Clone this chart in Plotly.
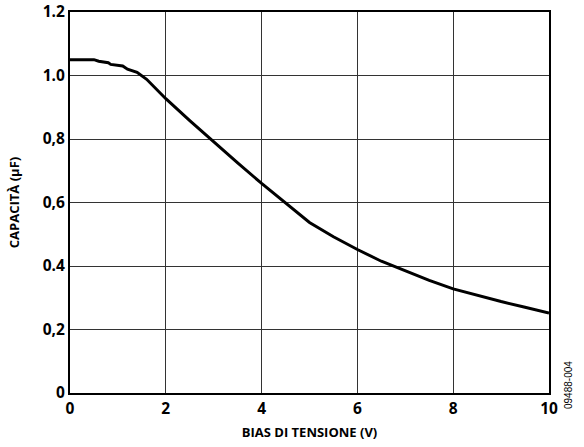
import plotly.graph_objects as go

bias_v = [0, 0.5, 0.6, 0.8, 0.85, 1.1, 1.2, 1.4, 1.6, 1.8, 2.0, 2.5, 3.0, 3.5, 4.0,
          4.5, 5.0, 5.5, 6.0, 6.5, 7.0, 7.5, 8.0, 8.5, 9.0, 9.5, 10.0]
capacitance_uf = [1.05, 1.05, 1.045, 1.04, 1.035, 1.03, 1.02, 1.01, 0.988, 0.957, 0.927,
                  0.858, 0.79, 0.725, 0.66, 0.597, 0.537, 0.492, 0.452, 0.415, 0.385,
                  0.355, 0.328, 0.307, 0.288, 0.27, 0.252]

x_ticks = [0, 2, 4, 6, 8, 10]
x_ticktext = ["0", "2", "4", "6", "8", "10"]
y_ticks = [0, 0.2, 0.4, 0.6, 0.8, 1.0, 1.2]
y_ticktext = ["0", "0,2", "0.4", "0,6", "0,8", "1.0", "1.2"]

fig = go.Figure()
fig.add_trace(go.Scatter(x=bias_v, y=capacitance_uf, mode="lines",
                         line=dict(color="black", width=3), showlegend=False))

font_family = "Open Sans"
fig.update_layout(
    width=584, height=447,
    margin=dict(l=70, r=35, t=12, b=54),
    paper_bgcolor="white", plot_bgcolor="white",
    font=dict(family=font_family, color="black"),
    xaxis=dict(range=[0, 10], tickvals=x_ticks, ticktext=x_ticktext,
               showgrid=True, gridcolor="#333333", gridwidth=1,
               showline=True, linecolor="black", linewidth=2, mirror=True,
               ticks="", zeroline=False, automargin=False,
               tickfont=dict(size=15.5, family=font_family, weight="bold"),
               title=dict(text="BIAS DI TENSIONE (V)", standoff=10,
                          font=dict(size=13, family=font_family, weight="bold"))),
    yaxis=dict(range=[0, 1.2], tickvals=y_ticks, ticktext=y_ticktext,
               showgrid=True, gridcolor="#333333", gridwidth=1,
               showline=True, linecolor="black", linewidth=2, mirror=True,
               ticks="", zeroline=False, automargin=False,
               tickfont=dict(size=15.5, family=font_family, weight="bold"),
               title=dict(text="CAPACITÀ (µF)", standoff=20,
                          font=dict(size=13, family=font_family, weight="bold"))),
)
fig.add_annotation(text="09488-004", xref="paper", yref="paper", x=1.0, y=0.0,
                   xshift=19, yshift=8, textangle=-90, showarrow=False,
                   font=dict(size=10, family="Liberation Sans", color="black"),
                   xanchor="center", yanchor="middle")
fig.write_html("out.html", config={"displayModeBar": False},
               post_script="document.body.style.margin='0px';document.body.style.padding='0px';")
